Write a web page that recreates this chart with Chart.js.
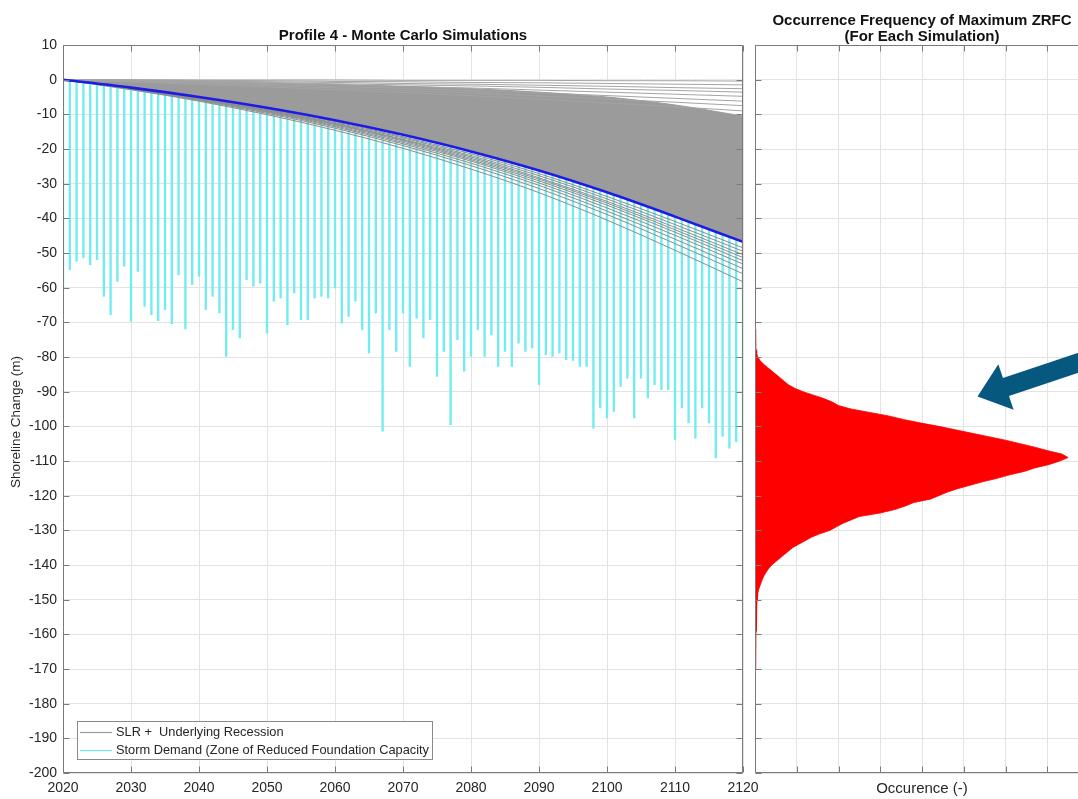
<!DOCTYPE html>
<html>
<head>
<meta charset="utf-8">
<script src="https://cdn.jsdelivr.net/npm/chart.js@4/dist/chart.umd.min.js"></script>
<style>
  html, body { margin: 0; padding: 0; background: #fff; overflow: hidden; width: 1078px; height: 799px; }
  canvas { position: absolute; top: 0; }
  #profile { left: 0; }
  #freq { left: 740px; }
</style>
</head>
<body>
<canvas id="profile" width="770" height="799"></canvas>
<canvas id="freq" width="360" height="799"></canvas>
<script>
// ---------------- data ----------------
// Sample years for the recession curves (decades)
const decades = [2020, 2030, 2040, 2050, 2060, 2070, 2080, 2090, 2100, 2110, 2120];

// Mean SLR + underlying recession (m)
const meanRecession = [0, -2.3, -5.0, -8.1, -11.7, -15.9, -20.7, -26.2, -32.5, -39.5, -46.8];

// Upper edge of the dense body of simulated recession curves (m)
const simBandTop = [0, -0.3, -0.6, -1.0, -1.4, -1.9, -2.6, -3.6, -5.0, -7.3, -10.5];

// Individual simulations above the dense body (m)
const simUpper = [
  [0, 0, -0.1, -0.1, -0.1, -0.2, -0.2, -0.2, -0.3, -0.3, -0.4],
  [0, -0.1, -0.2, -0.3, -0.5, -0.6, -0.8, -0.9, -1.1, -1.3, -1.5],
  [0, -0.2, -0.4, -0.6, -0.8, -1.1, -1.3, -1.6, -1.9, -2.3, -2.6],
  [0, -0.3, -0.5, -0.8, -1.2, -1.5, -1.8, -2.2, -2.7, -3.1, -3.6],
  [0, -0.3, -0.7, -1.1, -1.5, -2.0, -2.4, -3.0, -3.6, -4.2, -4.8],
  [0, -0.4, -0.9, -1.4, -2.0, -2.5, -3.2, -3.8, -4.6, -5.4, -6.2],
  [0, -0.5, -1.1, -1.7, -2.4, -3.1, -3.8, -4.7, -5.6, -6.5, -7.5],
  [0, -0.6, -1.4, -2.1, -2.9, -3.7, -4.6, -5.6, -6.7, -7.8, -9.0]
];

// Individual simulations below the mean curve (m)
const simLower = [
  [0, -2.4, -5.2, -8.4, -12.1, -16.5, -21.4, -27.1, -33.7, -40.9, -48.5],
  [0, -2.4, -5.3, -8.6, -12.4, -16.8, -21.9, -27.7, -34.4, -41.8, -49.5],
  [0, -2.5, -5.4, -8.7, -12.6, -17.2, -22.3, -28.3, -35.1, -42.6, -50.5],
  [0, -2.5, -5.5, -8.9, -12.8, -17.4, -22.7, -28.7, -35.6, -43.3, -51.3],
  [0, -2.6, -5.6, -9.0, -13.0, -17.7, -23.1, -29.2, -36.2, -44.0, -52.2],
  [0, -2.6, -5.7, -9.2, -13.3, -18.1, -23.5, -29.8, -37.0, -44.9, -53.2],
  [0, -2.7, -5.8, -9.4, -13.6, -18.5, -24.1, -30.5, -37.9, -46.0, -54.5],
  [0, -2.8, -6.0, -9.7, -14.0, -19.0, -24.8, -31.4, -38.9, -47.3, -56.0],
  [0, -2.9, -6.2, -10.1, -14.6, -19.8, -25.8, -32.6, -40.5, -49.2, -58.3]
];

// Storm demand, one event per year: deepest extent of the zone of reduced foundation capacity (m)
const stormYears = [
  2020, 2021, 2022, 2023, 2024, 2025, 2026, 2027, 2028, 2029,
  2030, 2031, 2032, 2033, 2034, 2035, 2036, 2037, 2038, 2039,
  2040, 2041, 2042, 2043, 2044, 2045, 2046, 2047, 2048, 2049,
  2050, 2051, 2052, 2053, 2054, 2055, 2056, 2057, 2058, 2059,
  2060, 2061, 2062, 2063, 2064, 2065, 2066, 2067, 2068, 2069,
  2070, 2071, 2072, 2073, 2074, 2075, 2076, 2077, 2078, 2079,
  2080, 2081, 2082, 2083, 2084, 2085, 2086, 2087, 2088, 2089,
  2090, 2091, 2092, 2093, 2094, 2095, 2096, 2097, 2098, 2099,
  2100, 2101, 2102, 2103, 2104, 2105, 2106, 2107, 2108, 2109,
  2110, 2111, 2112, 2113, 2114, 2115, 2116, 2117, 2118, 2119, 2120
];
const stormDemand = [
  -60.0, -54.8, -52.4, -51.4, -53.4, -51.9, -62.5, -67.8, -58.2, -53.8,
  -69.7, -55.3, -65.4, -67.8, -69.5, -66.3, -70.4, -56.3, -71.9, -59.1,
  -56.7, -66.3, -62.5, -67.3, -79.8, -72.1, -74.5, -57.7, -59.6, -58.7,
  -73.1, -63.9, -63.0, -70.7, -61.5, -69.2, -69.2, -63.0, -62.5, -63.0,
  -60.1, -70.2, -68.3, -63.9, -72.1, -78.8, -67.3, -101.4, -72.1, -78.4,
  -67.3, -82.7, -68.8, -74.5, -69.2, -85.6, -78.4, -99.5, -75.0, -84.1,
  -79.8, -72.1, -79.8, -73.6, -82.7, -78.4, -82.7, -76.0, -78.4, -77.4,
  -88.0, -79.3, -79.8, -78.8, -80.8, -81.0, -82.7, -82.7, -100.5, -94.7,
  -97.6, -95.7, -88.5, -86.1, -97.6, -86.1, -91.8, -88.0, -89.4, -89.4,
  -103.8, -94.7, -99.0, -103.4, -94.7, -99.0, -109.1, -102.9, -106.3, -104.4, -110.0
];

// Histogram of the maximum ZRFC per simulation: level (m) and occurrence (-)
const zrfcLevels = [
  -72, -73, -74, -75, -76, -77, -78, -79, -80, -81, -82, -83, -84, -85, -86, -87, -88, -89,
  -90, -91, -92, -93, -94, -95, -96, -97, -98, -99, -100, -101, -102, -103, -104, -105, -106, -107, -108, -109,
  -110, -111, -112, -113, -114, -115, -116, -117, -118, -119, -120, -121, -122, -123, -124, -125, -126, -127, -128, -129,
  -130, -131, -132, -133, -134, -135, -136, -137, -138, -139, -140, -141, -142, -143, -144, -145, -146, -147, -148, -149,
  -150, -151, -152, -153, -154, -155, -156, -157, -158, -159, -160, -161, -162, -163, -164, -165, -166, -167, -168, -169, -170
];
const zrfcCounts = [
  0.01, 0.01, 0.015, 0.015, 0.02, 0.02, 0.03, 0.04, 0.07, 0.12, 0.2, 0.3, 0.4, 0.5, 0.6, 0.7, 0.8, 0.95,
  1.15, 1.4, 1.65, 1.85, 2.0, 2.3, 2.75, 3.2, 3.55, 3.95, 4.4, 4.8, 5.2, 5.6, 6.0, 6.35, 6.7, 7.0, 7.35, 7.5,
  7.3, 7.05, 6.7, 6.45, 6.1, 5.8, 5.45, 5.15, 4.85, 4.6, 4.4, 4.2, 3.8, 3.6, 3.35, 3.0, 2.5, 2.3, 2.1, 1.95,
  1.8, 1.55, 1.35, 1.2, 1.05, 0.9, 0.8, 0.7, 0.6, 0.5, 0.4, 0.33, 0.27, 0.22, 0.18, 0.15, 0.12, 0.09, 0.07, 0.06,
  0.05, 0.045, 0.04, 0.04, 0.035, 0.03, 0.03, 0.03, 0.025, 0.025, 0.02, 0.02, 0.02, 0.02, 0.015, 0.015, 0.015, 0.01, 0.01, 0.01, 0.01
];

// Tick values
const yearTicks = [2020, 2030, 2040, 2050, 2060, 2070, 2080, 2090, 2100, 2110, 2120];
const changeTicks = [10, 0, -10, -20, -30, -40, -50, -60, -70, -80, -90, -100,
  -110, -120, -130, -140, -150, -160, -170, -180, -190, -200];
const occurrenceTicks = [0, 1, 2, 3, 4, 5, 6, 7, 8];

// Callout arrow (occurrence, level) pointing at the upper flank of the histogram
const calloutTail = [8.3, -79.4];
const calloutTip = [5.33, -91.4];

// ---------------- styling ----------------
const FONT = "'Liberation Sans', Arial, Helvetica, sans-serif";
const AXIS_COLOR = '#7a7a7a';
const GRID_COLOR = '#e3e3e3';
const TEXT_COLOR = '#262626';
const CYAN = '#72ecee';
const SIM_GRAY = '#9b9b9b';
const SIM_LABEL = 'SLR +  Underlying Recession';
const STORM_LABEL = 'Storm Demand (Zone of Reduced Foundation Capacity';
const legendLabels = [SIM_LABEL, STORM_LABEL];
const Y_TITLE = 'Shoreline Change (m)';

const pts = (xs, ys) => xs.map((x, i) => ({ x: x, y: ys[i] }));
const fixedTicks = (values) => (scale) => { scale.ticks = values.map(v => ({ value: v })); };

// MATLAB-style box with inward tick marks on all four sides
const boxTicks = {
  id: 'boxTicks',
  afterDatasetsDraw(chart) {
    const { ctx, chartArea: a, scales } = chart;
    const x = scales.x, y = scales.y;
    const L = Math.round(a.left) + 0.5, R = Math.round(a.right) - 0.5;
    const T = Math.round(a.top) + 0.5, B = Math.round(a.bottom) - 0.5;
    ctx.save();
    ctx.strokeStyle = AXIS_COLOR;
    ctx.lineWidth = 1;
    ctx.beginPath();
    x.ticks.forEach(t => {
      const px = Math.round(x.getPixelForValue(t.value)) + 0.5;
      ctx.moveTo(px, B); ctx.lineTo(px, B - 6);
      ctx.moveTo(px, T); ctx.lineTo(px, T + 6);
    });
    y.ticks.forEach(t => {
      const py = Math.round(y.getPixelForValue(t.value)) + 0.5;
      ctx.moveTo(L, py); ctx.lineTo(L + 6, py);
      ctx.moveTo(R, py); ctx.lineTo(R - 6, py);
    });
    ctx.rect(L, T, R - L, B - T);
    ctx.stroke();
    ctx.restore();
  }
};

// Rotated y-axis title, sitting slightly below the middle of the axes as in MATLAB output
const yTitle = {
  id: 'yTitle',
  afterDraw(chart, args, opts) {
    const { ctx, chartArea: a } = chart;
    ctx.save();
    ctx.translate(16, (a.top + a.bottom) / 2 + 13);
    ctx.rotate(-Math.PI / 2);
    ctx.font = '13.5px ' + FONT;
    ctx.fillStyle = TEXT_COLOR;
    ctx.textAlign = 'center';
    ctx.textBaseline = 'middle';
    ctx.fillText(opts.text, 0, 0);
    ctx.restore();
  }
};

// Legend box inside the lower-left corner of the profile axes
const insetLegend = {
  id: 'insetLegend',
  afterDraw(chart) {
    const { ctx, chartArea: a } = chart;
    const entries = legendLabels.map(label => {
      const ds = chart.data.datasets.find(d => d.label === label);
      return { text: label, color: ds.type === 'bar' ? ds.backgroundColor : ds.borderColor };
    });
    const x0 = Math.round(a.left) + 14, y0 = Math.round(a.bottom) - 52;
    const w = 355, h = 38;
    ctx.save();
    ctx.fillStyle = '#ffffff';
    ctx.fillRect(x0, y0, w, h);
    ctx.strokeStyle = '#8a8a8a';
    ctx.lineWidth = 1;
    ctx.strokeRect(x0 + 0.5, y0 + 0.5, w, h);
    ctx.font = '12.8px ' + FONT;
    ctx.textBaseline = 'middle';
    ctx.textAlign = 'left';
    entries.forEach((e, i) => {
      const yy = y0 + 11 + i * 18 + 0.5;
      ctx.strokeStyle = e.color;
      ctx.lineWidth = 1.2;
      ctx.beginPath();
      ctx.moveTo(x0 + 3, yy);
      ctx.lineTo(x0 + 35, yy);
      ctx.stroke();
      ctx.fillStyle = TEXT_COLOR;
      ctx.fillText(e.text, x0 + 39, yy);
    });
    ctx.restore();
  }
};

// Filled block arrow, positioned in data coordinates
const callout = {
  id: 'callout',
  afterDraw(chart, args, opts) {
    const { ctx, scales: { x, y } } = chart;
    const tx = x.getPixelForValue(opts.tip[0]), ty = y.getPixelForValue(opts.tip[1]);
    const sx = x.getPixelForValue(opts.tail[0]), sy = y.getPixelForValue(opts.tail[1]);
    const len = Math.hypot(sx - tx, sy - ty);
    const ux = (sx - tx) / len, uy = (sy - ty) / len;   // tip -> tail
    const px = -uy, py = ux;                              // perpendicular
    const headLen = 30, headHalf = 24, shaftHalf = 9.5;
    const bx = tx + ux * headLen, by = ty + uy * headLen;
    ctx.save();
    ctx.fillStyle = opts.color;
    ctx.beginPath();
    ctx.moveTo(tx, ty);
    ctx.lineTo(bx + px * headHalf, by + py * headHalf);
    ctx.lineTo(bx + px * shaftHalf, by + py * shaftHalf);
    ctx.lineTo(sx + px * shaftHalf, sy + py * shaftHalf);
    ctx.lineTo(sx - px * shaftHalf, sy - py * shaftHalf);
    ctx.lineTo(bx - px * shaftHalf, by - py * shaftHalf);
    ctx.lineTo(bx - px * headHalf, by - py * headHalf);
    ctx.closePath();
    ctx.fill();
    ctx.restore();
  }
};

const curve = (data, extra) => Object.assign({
  type: 'line',
  data: data,
  pointRadius: 0,
  borderWidth: 1,
  cubicInterpolationMode: 'monotone',
  fill: false
}, extra);

// ---------------- left: Monte Carlo profile ----------------
const profileDatasets = [
  { // 0: storm demand per year
    type: 'bar',
    label: STORM_LABEL,
    data: pts(stormYears, stormDemand),
    backgroundColor: CYAN,
    borderWidth: 0,
    barThickness: 1.7,
    order: 60
  },
  // 1: clears the storm bars above the mean recession curve
  curve(pts(decades, meanRecession), { label: 'clear', borderWidth: 0, borderColor: 'rgba(0,0,0,0)', fill: 'origin', backgroundColor: '#ffffff', order: 50 }),
  // 2: dense body of simulations, filled down to the mean curve
  curve(pts(decades, simBandTop), { label: SIM_LABEL, borderColor: SIM_GRAY, borderWidth: 1, fill: 1, backgroundColor: SIM_GRAY, order: 40 })
];
simUpper.forEach(s => profileDatasets.push(curve(pts(decades, s), { label: SIM_LABEL, borderColor: '#a4a4a4', order: 30 })));
simLower.forEach(s => profileDatasets.push(curve(pts(decades, s), { label: SIM_LABEL, borderColor: '#8c8c8c', order: 20 })));
profileDatasets.push(curve(pts(decades, meanRecession), { label: 'Mean', borderColor: '#1c1ce6', borderWidth: 2.6, order: 0 }));

new Chart(document.getElementById('profile'), {
  type: 'line',
  data: { datasets: profileDatasets },
  options: {
    responsive: false,
    animation: false,
    events: [],
    layout: { padding: { left: 0, right: 27, top: 0, bottom: 0 } },
    plugins: {
      legend: { display: false },
      tooltip: { enabled: false },
      filler: { propagate: false },
      title: {
        display: true,
        fullSize: false,
        text: 'Profile 4 - Monte Carlo Simulations',
        color: '#111',
        font: { family: FONT, size: 15, weight: 'bold', lineHeight: 1.2 },
        padding: { top: 27, bottom: 0 }
      },
      yTitle: { text: Y_TITLE }
    },
    scales: {
      x: {
        type: 'linear',
        min: 2020,
        max: 2120,
        offset: false,
        afterBuildTicks: fixedTicks(yearTicks),
        afterFit: s => { s.height = 26; },
        ticks: { callback: v => String(v), color: TEXT_COLOR, font: { family: FONT, size: 14 }, padding: 7, maxRotation: 0, autoSkip: false },
        grid: { color: GRID_COLOR, drawTicks: false, offset: false },
        border: { display: false }
      },
      y: {
        type: 'linear',
        min: -200,
        max: 10,
        afterBuildTicks: fixedTicks(changeTicks),
        afterFit: s => { s.width = 63; },
        ticks: { callback: v => String(v), color: TEXT_COLOR, font: { family: FONT, size: 14 }, padding: 6, autoSkip: false },
        grid: { color: GRID_COLOR, drawTicks: false },
        border: { display: false }
      }
    }
  },
  plugins: [boxTicks, insetLegend, yTitle]
});

// ---------------- right: occurrence of maximum ZRFC ----------------
new Chart(document.getElementById('freq'), {
  type: 'line',
  data: {
    datasets: [{
      label: 'Maximum ZRFC',
      data: zrfcLevels.map((v, i) => ({ x: zrfcCounts[i], y: v })),
      backgroundColor: '#ff0000',
      borderColor: '#ff0000',
      borderWidth: 0.8,
      pointRadius: 0,
      tension: 0,
      fill: 'origin'
    }]
  },
  options: {
    indexAxis: 'y',
    responsive: false,
    animation: false,
    events: [],
    layout: { padding: { left: 0, right: 11, top: 0, bottom: 0 } },
    plugins: {
      legend: { display: false },
      tooltip: { enabled: false },
      title: {
        display: true,
        fullSize: false,
        text: ['Occurrence Frequency of Maximum ZRFC', '(For Each Simulation)'],
        color: '#111',
        font: { family: FONT, size: 15, weight: 'bold', lineHeight: 1.05 },
        padding: { top: 13, bottom: 0.5 }
      },
      callout: { tail: calloutTail, tip: calloutTip, color: '#07587f' }
    },
    scales: {
      x: {
        type: 'linear',
        min: 0,
        max: 8,
        afterBuildTicks: fixedTicks(occurrenceTicks),
        afterFit: s => { s.height = 26; },
        ticks: { display: false },
        grid: { color: GRID_COLOR, drawTicks: false },
        border: { display: false },
        title: { display: true, text: 'Occurence (-)', color: TEXT_COLOR, font: { family: FONT, size: 15 }, padding: { top: 0, bottom: 1 } }
      },
      y: {
        type: 'linear',
        min: -200,
        max: 10,
        afterBuildTicks: fixedTicks(changeTicks),
        afterFit: s => { s.width = 15; },
        ticks: { display: false },
        grid: { color: GRID_COLOR, drawTicks: false },
        border: { display: false }
      }
    }
  },
  plugins: [boxTicks, callout]
});
</script>
</body>
</html>
